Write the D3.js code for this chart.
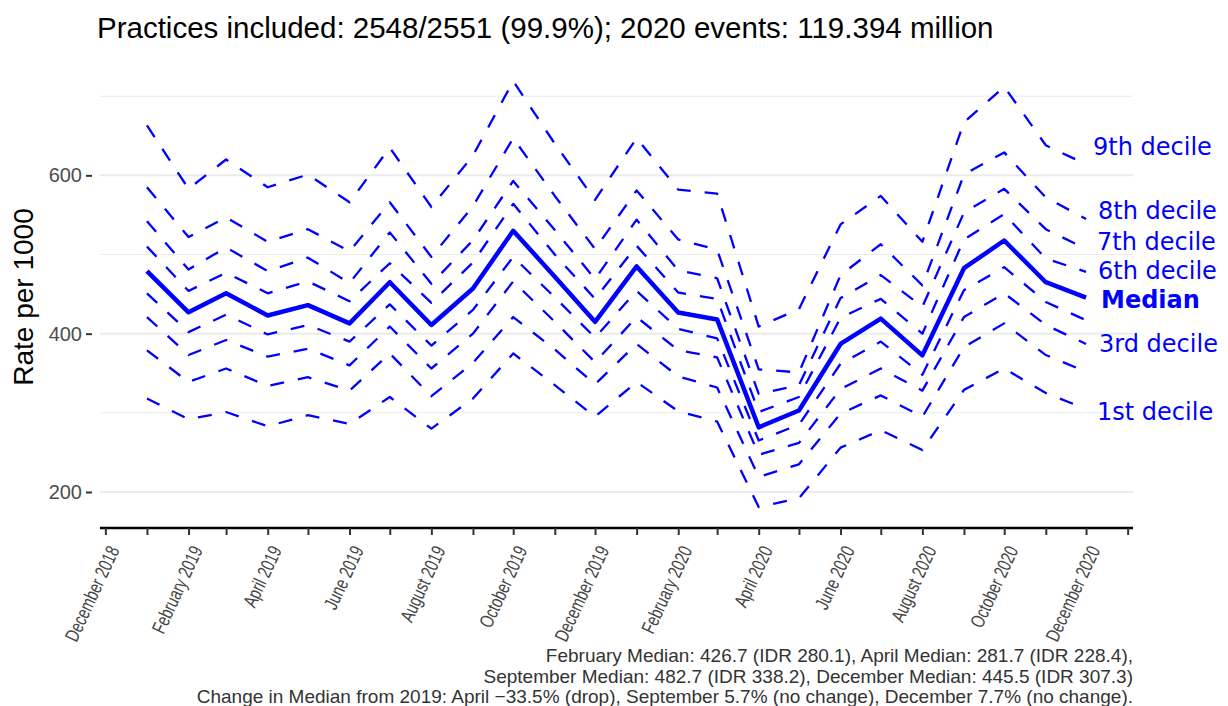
<!DOCTYPE html>
<html>
<head>
<meta charset="utf-8">
<script src="https://cdn.jsdelivr.net/npm/d3@7"></script>
<style>
  html, body { margin: 0; padding: 0; background: #fff; }
  svg { display: block; }
</style>
</head>
<body>
<svg id="chart" width="1228" height="706"></svg>
<script>
// Monthly rate per 1000, January 2019 to December 2020
const months = [
  "2019-01","2019-02","2019-03","2019-04","2019-05","2019-06",
  "2019-07","2019-08","2019-09","2019-10","2019-11","2019-12",
  "2020-01","2020-02","2020-03","2020-04","2020-05","2020-06",
  "2020-07","2020-08","2020-09","2020-10","2020-11","2020-12"
];
const decile1 = [318, 292, 301, 283, 297, 286, 320, 280, 318, 375, 335, 295, 339, 302, 289, 181, 192, 256, 278, 253, 329, 356, 325, 305];
const decile2 = [379, 339, 356, 334, 345, 328, 375, 321, 363, 421, 380, 336, 387, 346, 332, 219, 235, 299, 322, 295, 383, 413, 373, 352];
const decile3 = [421, 373, 392, 371, 381, 360, 409, 356, 400, 466, 415, 364, 421, 379, 370, 247, 262, 330, 356, 328, 421, 451, 411, 387];
const decile4 = [451, 402, 424, 399, 411, 390, 437, 385, 430, 497, 446, 395, 454, 406, 394, 265, 285, 362, 390, 348, 455, 484, 440, 417];
const median  = [479, 427, 451, 423, 436, 413, 465, 411, 457, 530, 472, 415, 485, 426.7, 418, 281.7, 303, 387, 419, 372.6, 482.7, 517.7, 465, 445.5];
const decile6 = [510, 454, 477, 451, 466, 441, 489, 439, 490, 564, 500, 444, 511, 452, 444, 301, 320, 420, 444, 400, 519, 551, 495, 478];
const decile7 = [542, 481, 509, 479, 496, 464, 528, 463, 518, 593, 531, 469, 544, 480, 470, 324, 335, 445, 474, 434, 553, 583, 532, 507];
const decile8 = [585, 522, 547, 516, 532, 504, 566, 497, 561, 647, 574, 507, 581, 519, 506, 355, 351, 474, 513, 461, 601, 629, 572, 545];
const decile9 = [663, 583, 620, 585, 601, 566, 635, 560, 625, 719, 640, 569, 647, 582, 577, 409, 431, 538, 574, 516, 667, 712, 638, 614];

const yTicks = [200, 400, 600];
const yMinor = [300, 500, 700];

const titleText = "Practices included: 2548/2551 (99.9%); 2020 events: 119.394 million";
const yTitle = "Rate per 1000";
const captionLines = [
  "February Median: 426.7 (IDR 280.1), April Median: 281.7 (IDR 228.4),",
  "September Median: 482.7 (IDR 338.2), December Median: 445.5 (IDR 307.3)",
  "Change in Median from 2019: April \u221233.5% (drop), September 5.7% (no change), December 7.7% (no change)."
];

// series drawn, with the end label each one carries (null = unlabelled)
const series = [
  { values: decile1, label: "1st decile", dy: 3, dx: 11 },
  { values: decile2, label: null },
  { values: decile3, label: "3rd decile", dy: 0, dx: 13 },
  { values: decile4, label: null },
  { values: decile6, label: "6th decile", dy: -1, dx: 12 },
  { values: decile7, label: "7th decile", dy: -7, dx: 11 },
  { values: decile8, label: "8th decile", dy: -8, dx: 12 },
  { values: decile9, label: "9th decile", dy: -17, dx: 7 },
  { values: median,  label: "Median", dy: 2, dx: 15, main: true }
];

const parse = d3.timeParse("%Y-%m");
const dates = months.map(parse);

const svg = d3.select("#chart");
const blue = "#0000ff";

const x = d3.scaleTime()
  .domain([new Date(2018, 10, 27), new Date(2021, 0, 5)])
  .range([100, 1133]);
const y = d3.scaleLinear().domain([154, 748]).range([528.4, 58.2]);

// grid
const grid = svg.append("g");
grid.selectAll("line.minor").data(yMinor).join("line")
  .attr("x1", 100).attr("x2", 1133)
  .attr("y1", d => y(d)).attr("y2", d => y(d))
  .attr("stroke", "#ebebeb").attr("stroke-width", 1);
grid.selectAll("line.major").data(yTicks).join("line")
  .attr("x1", 100).attr("x2", 1133)
  .attr("y1", d => y(d)).attr("y2", d => y(d))
  .attr("stroke", "#ebebeb").attr("stroke-width", 2);

// y axis
const yAxis = svg.append("g").attr("transform", "translate(92,0)")
  .call(d3.axisLeft(y).tickValues(yTicks).tickSize(6).tickPadding(4));
yAxis.select(".domain").remove();
yAxis.selectAll(".tick line").attr("stroke", "#333").attr("stroke-width", 2);
yAxis.selectAll(".tick text")
  .attr("fill", "#4d4d4d")
  .style("font-family", "'Liberation Sans', Arial, sans-serif")
  .style("font-size", "20px");

// x axis: a tick every month, a label every second month
const xAxis = svg.append("g").attr("transform", "translate(0,528)")
  .call(d3.axisBottom(x)
    .ticks(d3.timeMonth.every(1))
    .tickSize(7)
    .tickFormat(d => (d.getMonth() % 2 === 1) ? d3.timeFormat("%B %Y")(d) : ""));
xAxis.select(".domain").attr("stroke", "#000").attr("stroke-width", 2.5)
  .attr("d", "M100,0H1133");
xAxis.selectAll(".tick line").attr("stroke", "#333").attr("stroke-width", 2);
xAxis.selectAll(".tick text")
  .attr("fill", "#444")
  .style("font-family", "'Liberation Sans Narrow', 'Arial Narrow', sans-serif")
  .style("font-size", "19.5px")
  .attr("text-anchor", "end")
  .attr("y", 0).attr("dy", 0)
  .attr("transform", "translate(14,22) rotate(-65) scale(0.74,1)");

// lines
const line = d3.line()
  .x((d, i) => x(dates[i]))
  .y(d => y(d));

svg.append("g").selectAll("path").data(series).join("path")
  .attr("d", s => line(s.values))
  .attr("fill", "none")
  .attr("stroke", blue)
  .attr("stroke-width", s => s.main ? 4.5 : 2.3)
  .attr("stroke-dasharray", s => s.main ? null : "14,14")
  .attr("stroke-linejoin", "round");

// end labels
const last = dates.length - 1;
svg.append("g").selectAll("text").data(series.filter(s => s.label)).join("text")
  .attr("x", s => x(dates[last]) + s.dx)
  .attr("y", s => y(s.values[last]) + s.dy)
  .attr("dominant-baseline", "central")
  .attr("fill", blue)
  .style("font-family", "'DejaVu Sans', Verdana, sans-serif")
  .style("font-size", "24px")
  .style("font-weight", s => s.main ? "bold" : "normal")
  .text(s => s.label);

// title
svg.append("text")
  .attr("x", 97).attr("y", 38)
  .style("font-family", "'Liberation Sans', Arial, sans-serif")
  .style("font-size", "29.5px")
  .attr("fill", "#000")
  .text(titleText);

// y title
svg.append("text")
  .attr("transform", "translate(33,297) rotate(-90)")
  .attr("text-anchor", "middle")
  .style("font-family", "'Liberation Sans', Arial, sans-serif")
  .style("font-size", "28px")
  .attr("fill", "#000")
  .text(yTitle);

// caption
svg.append("g").selectAll("text").data(captionLines).join("text")
  .attr("x", 1133)
  .attr("y", (d, i) => 662 + i * 20.5)
  .attr("text-anchor", "end")
  .style("font-family", "'Liberation Sans', Arial, sans-serif")
  .style("font-size", "19px")
  .attr("fill", "#333")
  .text(d => d);
</script>
</body>
</html>
